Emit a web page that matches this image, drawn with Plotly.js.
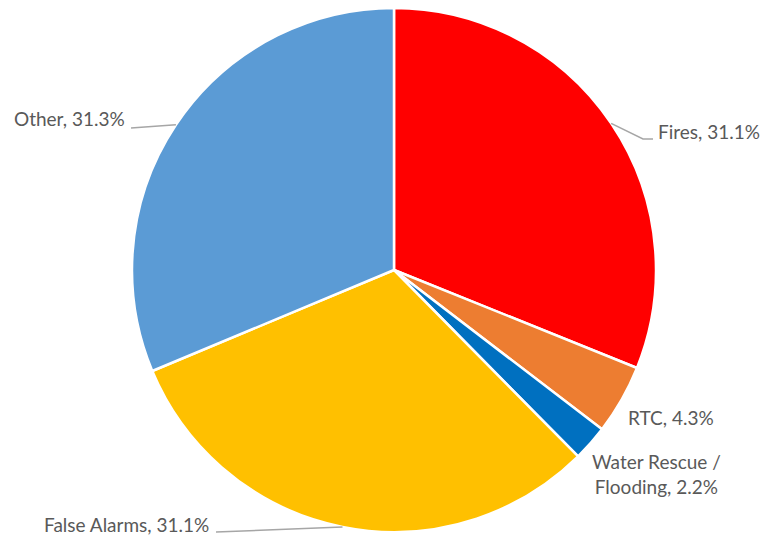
<!DOCTYPE html>
<html>
<head>
<meta charset="utf-8">
<script src="https://cdn.plot.ly/plotly-3.0.1.min.js"></script>
<style>html,body{margin:0;padding:0;background:#fff;}#chart{width:762px;height:536px;}</style>
</head>
<body>
<div id="chart"></div>
<script>
const categories = ['Fires', 'RTC', 'Water Rescue / Flooding', 'False Alarms', 'Other'];
const percentages = [31.1, 4.3, 2.2, 31.1, 31.3];
const sliceColors = ['#FF0000', '#ED7D31', '#0070C0', '#FFC000', '#5B9BD5'];

const W = 762, H = 536;
const cx = 394, cy = 270, R = 262;
const px = x => x / W;
const py = y => 1 - y / H;

// label placement (style): text anchor pixel, and leader line elbow/end points
const labelStyle = [
  {x: 656, y: 131, xa: 'left',  line: [[643, 139], [653, 139]]},
  {x: 626, y: 417, xa: 'left',  line: null},
  {x: 656, y: 474, xa: 'center', line: null},
  {x: 211, y: 524, xa: 'right', line: [[216, 532]]},
  {x: 127, y: 119, xa: 'right', line: [[131, 128]]}
];

const total = percentages.reduce((a, b) => a + b, 0);
const annotations = [];
const shapes = [];
let cum = 0;
categories.forEach((c, i) => {
  const mid = (cum + percentages[i] / 2) / total * 2 * Math.PI;
  cum += percentages[i];
  const ex = cx + R * Math.sin(mid), ey = cy - R * Math.cos(mid);
  const st = labelStyle[i];
  annotations.push({
    xref: 'paper', yref: 'paper', x: px(st.x), y: py(st.y),
    xanchor: st.xa, yanchor: 'middle', align: 'center', showarrow: false,
    text: c.replace(' / ', ' /<br>') + ', ' + percentages[i].toFixed(1) + '%',
    font: {family: 'Lato, Roboto, sans-serif', size: 19, color: '#595959'}
  });
  if (st.line) {
    let d = 'M' + px(ex) + ',' + py(ey);
    st.line.forEach(p => { d += ' L' + px(p[0]) + ',' + py(p[1]); });
    shapes.push({type: 'path', xref: 'paper', yref: 'paper', path: d,
      line: {color: '#A6A6A6', width: 1.5}});
  }
});

const trace = {
  type: 'pie',
  labels: categories,
  values: percentages,
  sort: false,
  direction: 'clockwise',
  rotation: 0,
  textinfo: 'none',
  hoverinfo: 'label+percent',
  marker: {colors: sliceColors, line: {color: '#FFFFFF', width: 2.5}},
  domain: {x: [(cx - R) / W, (cx + R) / W], y: [(H - cy - R) / H, (H - cy + R) / H]}
};

const layout = {
  width: W, height: H,
  margin: {l: 0, r: 0, t: 0, b: 0},
  showlegend: false,
  paper_bgcolor: '#FFFFFF',
  annotations: annotations,
  shapes: shapes
};

Plotly.newPlot('chart', [trace], layout, {displayModeBar: false, staticPlot: true});
</script>
</body>
</html>
